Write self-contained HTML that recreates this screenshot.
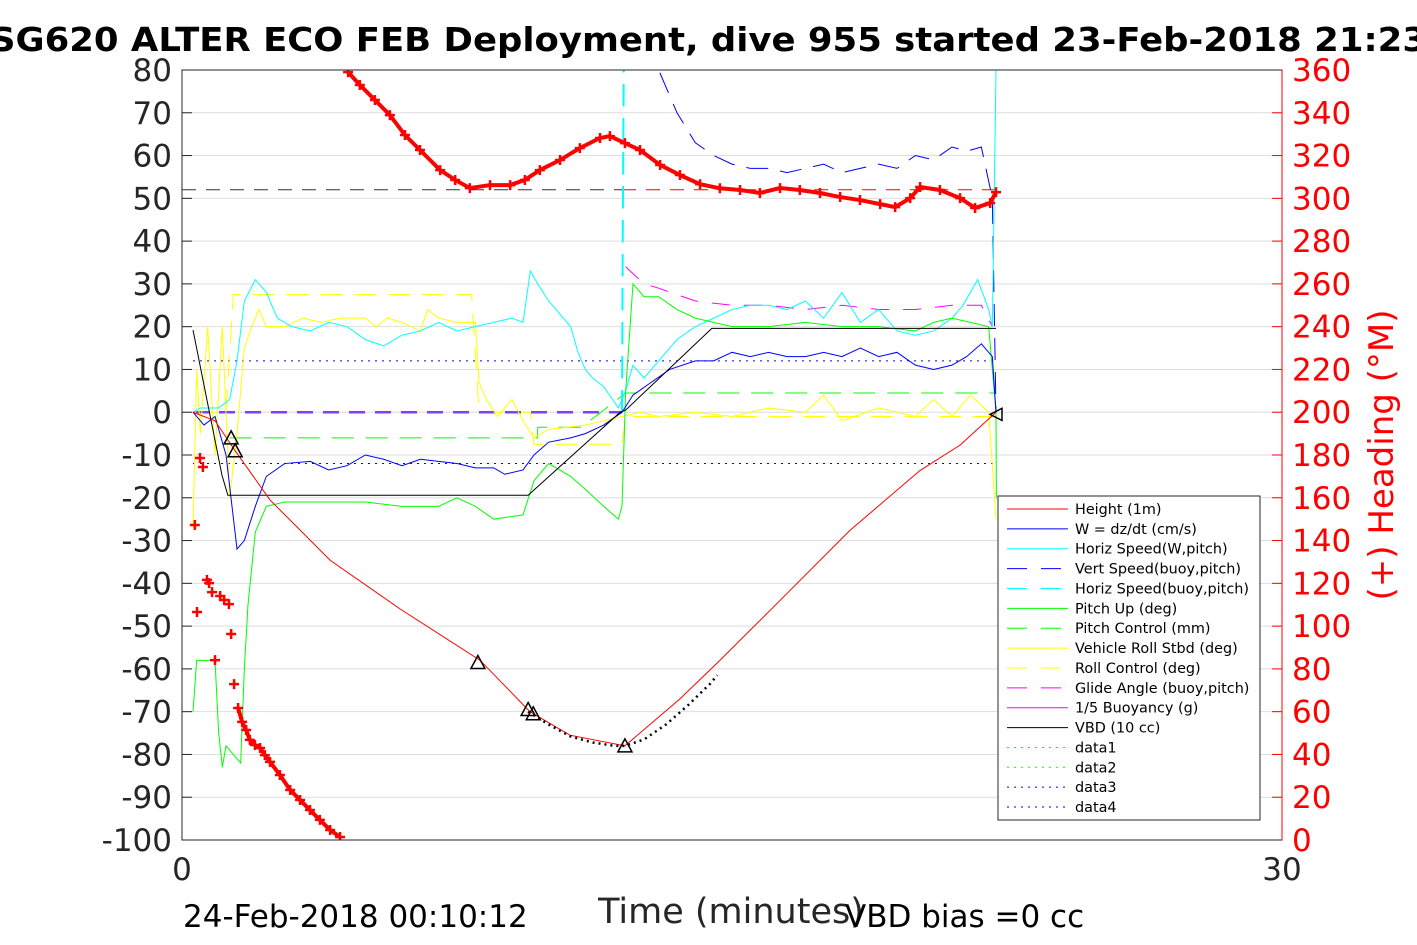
<!DOCTYPE html>
<html><head><meta charset="utf-8"><style>
body{margin:0;background:#fff;}
svg{display:block;font-family:"DejaVu Sans","Liberation Sans",sans-serif;}
</style></head><body>
<svg id="chart" width="1417" height="945" viewBox="0 0 1417 945">
<rect width="1417" height="945" fill="#fff"/>
<text x="-10" y="51" textLength="1437" lengthAdjust="spacingAndGlyphs" font-size="33" font-weight="bold" fill="#000">SG620 ALTER ECO FEB Deployment, dive 955 started 23-Feb-2018 21:23</text>
<g id="grid"></g><g id="marks"></g><g id="axes"></g><g id="legend"></g>
<text x="183" y="927" font-size="31" fill="#000">24-Feb-2018 00:10:12</text>
<text x="731" y="923" text-anchor="middle" font-size="35" fill="#262626">Time (minutes)</text>
<text x="845" y="927" font-size="31" fill="#000">VBD bias =0 cc</text>
<text transform="translate(1393,455) rotate(-90)" text-anchor="middle" font-size="34" fill="#f00">(+) Heading (°M)</text>
</svg>
<script>
const leftTicks=[80,70,60,50,40,30,20,10,0,-10,-20,-30,-40,-50,-60,-70,-80,-90,-100];
const rightTicks=[360,340,320,300,280,260,240,220,200,180,160,140,120,100,80,60,40,20,0];
const xTicks=[0,30];
const heightT=[0.3,0.9,1.45,2.4,4.04,5.95,8.13,9.49,10.58,12.08,13.58,14.67,16.31,18.22,20.13,21.22,22.2];
const heightV=[0,-2,-9,-20.5,-34.6,-46,-58,-70,-75.5,-78,-67,-58,-44,-27.6,-13.6,-7.7,0];
const vbdT=[0.3,1.09,1.25,9.44,11.95,12.1,14.45,22.2];
const vbdV=[19.2,-14.7,-19.4,-19.4,0,0.5,19.6,19.6];
const wT=[0.3,0.6,0.9,1.2,1.5,1.7,2.0,2.3,2.8,3.5,4.0,4.5,5.0,5.5,6.0,6.5,7.0,7.5,8.0,8.5,8.8,9.3,9.6,10.0,10.6,11.0,11.5,12.0,12.3,12.8,13.3,14.0,14.5,15.0,15.5,16,16.5,17,17.5,18,18.5,19,19.5,20,20.5,21,21.4,21.8,22.1,22.2];
const wV=[0,-3,-1,-10,-32,-30,-22,-15,-12,-11.5,-13.5,-12.5,-10,-11,-12.5,-11,-11.5,-12,-13,-13,-14.5,-13.5,-10,-7,-6,-5,-3,0,4,7,10,12,12,14,13,14,13,13,14,13,15,13,14,11,10,11,13,16,13,0];
const hsT=[0.3,0.5,1.0,1.3,1.5,1.7,2.0,2.3,2.6,3.0,3.5,4.0,4.5,5.0,5.5,6.0,6.5,7.0,7.5,8.0,8.5,9.0,9.3,9.5,9.7,10.0,10.6,10.8,11.0,11.2,11.5,11.9,12.1,12.3,12.6,13,13.5,14,14.5,15,15.5,16,16.5,17,17.5,18,18.5,19,19.5,20,20.5,21,21.3,21.7,22.0,22.1,22.2];
const hsV=[0,1,1,3,12,26,31,28,22,20,19,21,20,17,15.5,18,19,21,19,20,21,22,21,33,30,26,20,14,10,8,6,1,5,11,8,12,17,20,22,24,25,25,24,26,22,28,21,24,19,18,19,22,25,31,24,20,80];
const vsT=[12.0,12.05,12.6,13.0,13.5,14.0,14.5,15,15.5,16,16.5,17,17.5,18,18.5,19,19.5,20,20.5,21,21.4,21.8,22.1,22.2];
const vsV=[0,85,83,80,70,63,60,58,57,57,56,57,58,56,57,58,57,60,59,62,61,62,50,0];
const glideT=[12.1,12.6,13,14,15,16,17,18,19,20,21,21.8,22.1];
const glideV=[34,30,29,26,25,25,24,25,24,24,25,25,20];
const pitchT=[0.3,0.4,0.9,1.0,1.1,1.2,1.4,1.6,1.7,1.8,2.0,2.3,2.8,3.5,4,5,6,7,7.5,8,8.5,9.3,9.6,10,10.6,11,11.5,11.9,12.0,12.1,12.3,12.6,13,13.5,14,15,16,17,18,19,20,20.5,21,21.5,22,22.2,22.21];
const pitchV=[-70,-58,-58,-75,-83,-78,-80,-82,-60,-45,-28,-22,-21,-21,-21,-21,-22,-22,-20,-22,-25,-24,-16,-12,-15,-18,-22,-25,-22,5,30,27,27,24,22,20,20,21,20,20,19,21,22,21,20,0,-20];
const pcT=[1.3,9.7,9.7,10.9,12.1,22.2];
const pcV=[-6,-6,-3.5,-3.5,4.5,4.5];
const rollT=[0.3,0.4,0.5,0.7,0.9,1.1,1.3,1.5,1.7,1.9,2.1,2.3,2.8,3.3,3.8,4.3,5,5.3,5.6,6,6.5,6.7,7,7.5,8,8.1,8.3,8.6,9.0,9.3,9.6,10,11,11.5,12,12.5,13,14,15,16,17,17.5,18,19,20,20.5,21,21.5,22,22.2];
const rollV=[-27,10,-5,20,-10,20,-20,-5,15,20,24,20,20,22,21,22,22,20,22,21,19,24,22,21,21,7,3,-1,3,-2,-6,-4,-3,-2,-1,0,-1,0,-1,1,0,4,-2,1,-1,3,-1,4,0,-25];
const rcT=[0.3,1.2,1.4,7.9,8.1,9.5,9.6,12.0,12.1,22.2];
const rcV=[0,0,27.5,27.5,0,0,-7.5,-7.5,-1,-1];
const headT=[0.35,0.41,0.49,0.57,0.68,0.74,0.82,0.90,1.04,1.15,1.28,1.34,1.42,1.53,1.64,1.75,1.85,1.99,2.13,2.26,2.40,2.67,2.95,3.22,3.49,3.76,4.04,4.31,4.53,4.85,5.26,5.67,6.08,6.49,7.04,7.45,7.85,8.40,8.95,9.35,9.76,10.31,10.85,11.40,11.67,12.08,12.49,13.04,13.58,14.13,14.67,15.22,15.76,16.31,16.85,17.40,17.95,18.49,19.04,19.45,19.86,20.13,20.67,21.22,21.63,22.04,22.20];
const headV=[147.3,106.6,178.6,174.4,121.6,120.1,115.9,84.1,114.1,112.2,110.3,96.3,72.9,61.7,55.2,51.4,46.8,44.4,43.0,39.7,36.5,30.4,23.4,18.7,14.0,9.4,4.7,1.4,359.0,353.0,346.0,338.9,329.6,322.6,313.2,308.6,304.8,306.2,306.2,308.6,313.2,317.9,323.5,328.2,329.1,325.8,322.6,315.6,310.9,306.6,304.7,303.9,302.5,304.8,303.9,302.5,300.6,299.2,297.3,295.9,300.1,305.3,303.9,300.1,295.5,297.8,302.9];
const triT=[1.34,1.45,8.07,9.44,9.58,12.08,22.2];
const triV=[-6,-9,-58.5,-69.5,-70.5,-78,-0.5];
const dotT=[9.44,10,10.6,11.2,11.8,12.08,12.6,13.2,13.8,14.4,14.6];
const dotV=[-70,-73,-75.8,-77.2,-78,-78,-76.5,-73,-68.5,-63.5,-61.5];

const L=182,R=1282,T=70,B=840;
const X=t=>L+(t-0)/(30-0)*(R-L);
const Y=v=>B-(v+100)/180*(B-T);
const YR=h=>B-h/360*(B-T);
const NS='http://www.w3.org/2000/svg';
function mk(tag,parent,attrs){const e=document.createElementNS(NS,tag);for(const k in attrs)e.setAttribute(k,attrs[k]);parent.appendChild(e);return e;}
const grid=document.getElementById('grid'),marks=document.getElementById('marks'),axes=document.getElementById('axes'),leg=document.getElementById('legend');
const clip=mk('clipPath',document.getElementById('chart'),{id:'pc'});mk('rect',clip,{x:L,y:T,width:R-L,height:B-T});
marks.setAttribute('clip-path','url(#pc)');
leftTicks.forEach(v=>{
 const g=mk('line',grid,{x1:L,x2:R,y1:Y(v),y2:Y(v),stroke:'#dedede','stroke-width':1});
 
 
 const tk=mk('line',axes,{x1:L,x2:L+10,y1:Y(v),y2:Y(v),stroke:'#262626'});
 
 
 const tx=mk('text',axes,{x:L-10,y:Y(v)+11,'text-anchor':'end','font-size':31,fill:'#262626'});tx.textContent=v;
 
 
});
rightTicks.forEach(h=>{
 const tk=mk('line',axes,{x1:R-10,x2:R,y1:YR(h),y2:YR(h),stroke:'#f00'});
 
 
 const tx=mk('text',axes,{x:R+10,y:YR(h)+11,'font-size':31,fill:'#f00'});tx.textContent=h;
 
 
});
xTicks.forEach(t=>{
 const tx=mk('text',axes,{x:X(t),y:B+40,'text-anchor':'middle','font-size':31,fill:'#262626'});tx.textContent=t;
 
 
});
const frame=mk('rect',axes,{x:L,y:T,width:R-L,height:B-T,fill:'none',stroke:'#262626','stroke-width':1});


const rAx=mk('line',axes,{x1:R,x2:R,y1:T,y2:B,stroke:'#f00'});



function series(ts,vs,color,dash,name,w,yf){
 const p=mk('polyline',marks,{points:ts.map((t,i)=>X(t)+','+(yf||Y)(vs[i])).join(' '),fill:'none',stroke:color,'stroke-width':w||1,'stroke-dasharray':dash||'none'});
 
 
}
function hline(v,t0,t1,color,dash,name,w,yf){series([t0,t1],[v,v],color,dash,name,w,yf);}
hline(12,0.3,22.2,'#0000ff','2,5','data3-line');
hline(-12,0.3,22.2,'#0000ff','2,5','data4-line');
hline(52,0,12,'#333','14,10','glide-angle-ref');
hline(52,12,22.2,'#ff0000','14,10','heading-ref');
series(rcT,rcV,'#ffff00','22,12','roll-control-line');
series(pcT,pcV,'#00ff00','22,12','pitch-control-line');
hline(0,0.3,12,'#8040ff','16,10','buoyancy-line',2.5);
series(vsT,vsV,'#0000ff','22,12','vert-speed-buoy-line');
series([12.0,12.02,12.05],[0,40,85],'#00ffff','22,12','horiz-speed-buoy-line',2);
series(glideT,glideV,'#ff00ff','18,14','glide-angle-line');
series(rollT,rollV,'#ffff00',null,'roll-line');
series(hsT,hsV,'#00ffff',null,'horiz-speed-line');
series(pitchT,pitchV,'#00ff00',null,'pitch-line');
series(wT,wV,'#0000ff',null,'w-line');
series(vbdT,vbdV,'#000',null,'vbd-line');
series(heightT,heightV,'#ff0000',null,'height-line');
series(dotT,dotV,'#000','2,4','bottom-dots-line',2.5);
series(headT.slice(13,28),headV.slice(13,28),'#ff0000',null,'heading-trace-a',4,YR);
series(headT.slice(28),headV.slice(28),'#ff0000',null,'heading-trace-b',4,YR);
headT.forEach((t,i)=>{
 const x=X(t),y=YR(headV[i]);
 const m=mk('path',marks,{d:`M${x-5},${y}H${x+5}M${x},${y-5}V${y+5}`,stroke:'#ff0000','stroke-width':2.5});
 
 
});
triT.forEach((t,i)=>{
 const x=X(t),y=Y(triV[i]);
 const d=i==triT.length-1?`M${x-6},${y}L${x+6},${y-6}L${x+6},${y+6}Z`:`M${x},${y-7}L${x+7},${y+6}L${x-7},${y+6}Z`;
 const m=mk('path',marks,{d:d,fill:'none',stroke:'#000','stroke-width':1.5});
 
 
});
const lb=mk('rect',leg,{x:998,y:496,width:262,height:324,fill:'#fff',stroke:'#262626'});


const legNames=['Height (1m)','W = dz/dt (cm/s)','Horiz Speed(W,pitch)','Vert Speed(buoy,pitch)','Horiz Speed(buoy,pitch)','Pitch Up (deg)','Pitch Control (mm)','Vehicle Roll Stbd (deg)','Roll Control (deg)','Glide Angle (buoy,pitch)','1/5 Buoyancy (g)','VBD (10 cc)','data1','data2','data3','data4'];
const legCol=['#ff0000','#0000ff','#00ffff','#0000ff','#00ffff','#00ff00','#00ff00','#ffff00','#ffff00','#ff00ff','#ff00ff','#000','#00ff00','#00ff00','#0000ff','#0000ff'];
const legDash=['none','none','none','20,14','20,14','none','20,14','none','20,14','20,14','none','none','2,5','2,5','2,5','2,5'];
legNames.forEach((n,i)=>{
 const y=509+i*19.87;
 const ln=mk('line',leg,{x1:1007,x2:1068,y1:y,y2:y,stroke:legCol[i],'stroke-dasharray':legDash[i]});
 
 
 const tx=mk('text',leg,{x:1075,y:y+5,'font-size':14.4,fill:'#000'});tx.textContent=n;
 
 
});
</script>
</body></html>
